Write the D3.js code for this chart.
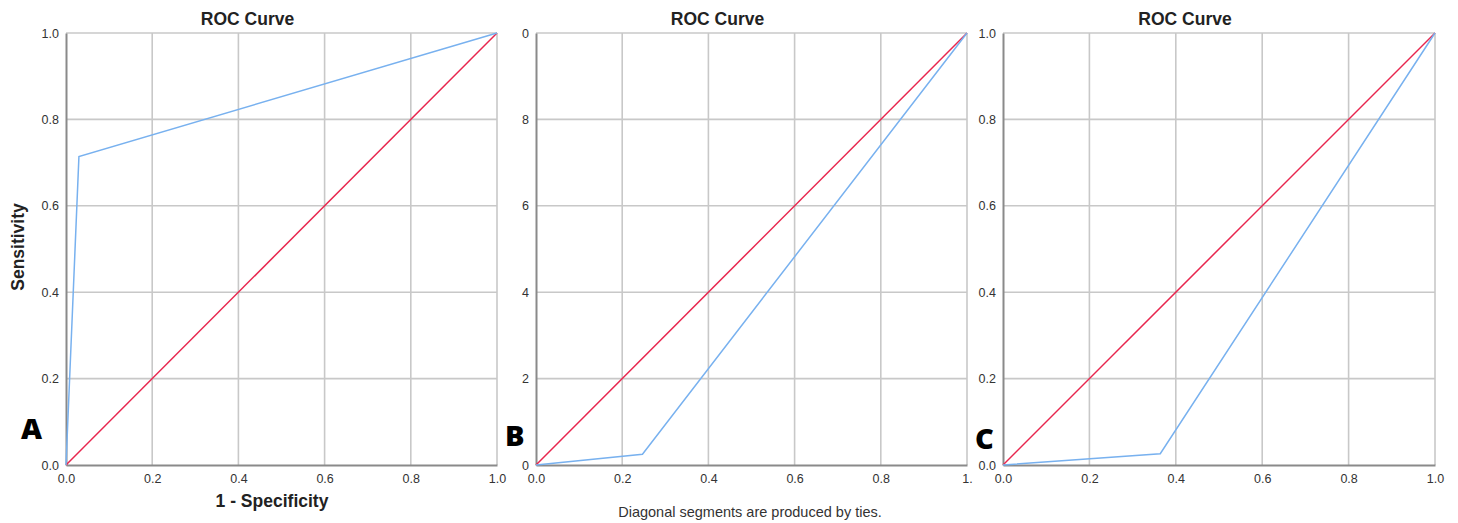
<!DOCTYPE html>
<html>
<head>
<meta charset="utf-8">
<script src="https://cdn.jsdelivr.net/npm/d3@7"></script>
<style>
  body { margin: 0; background: #fff; }
  text { font-family: Arial, "Liberation Sans", sans-serif; }
</style>
</head>
<body>
<div id="wrapper"></div>
<script>
/* three ROC panels side by side, SPSS look */

// data: [1 - specificity, sensitivity]
const rocA = [[0, 0], [0.03, 0.714], [1, 1]];
const rocB = [[0, 0], [0.247, 0.025], [1, 1]];
const rocC = [[0, 0], [0.364, 0.026], [1, 1]];
const reference = [[0, 0], [1, 1]];

const tickValues = [0, 0.2, 0.4, 0.6, 0.8, 1.0];
const xTickLabelsA = ["0.0", "0.2", "0.4", "0.6", "0.8", "1.0"];
const yTickLabelsA = ["0.0", "0.2", "0.4", "0.6", "0.8", "1.0"];
const xTickLabelsB = ["0.0", "0.2", "0.4", "0.6", "0.8", "1."];
const yTickLabelsB = ["0", "2", "4", "6", "8", "0"];
const xTickLabelsC = ["0.0", "0.2", "0.4", "0.6", "0.8", "1.0"];
const yTickLabelsC = ["0.0", "0.2", "0.4", "0.6", "0.8", "1.0"];
const panelLetters = ["A", "B", "C"];

const width = 1458;
const height = 523;

const panels = [
  {left: 66, right: 497, top: 33, bottom: 465, roc: rocA, xt: xTickLabelsA, yt: yTickLabelsA, letter: [21, 439]},
  {left: 536, right: 967, top: 33, bottom: 465, roc: rocB, xt: xTickLabelsB, yt: yTickLabelsB, letter: [505, 446]},
  {left: 1003, right: 1435, top: 33, bottom: 465, roc: rocC, xt: xTickLabelsC, yt: yTickLabelsC, letter: [975, 449]},
];

const svg = d3.select("#wrapper")
  .append("svg")
    .attr("width", width)
    .attr("height", height);

panels.forEach(function(p, i) {
  const xScale = d3.scaleLinear().domain([0, 1]).range([p.left, p.right]);
  const yScale = d3.scaleLinear().domain([0, 1]).range([p.bottom, p.top]);
  const g = svg.append("g");

  // grid
  g.selectAll(".vgrid").data(tickValues.slice(1))
    .enter().append("line")
    .attr("x1", d => xScale(d)).attr("x2", d => xScale(d))
    .attr("y1", p.top).attr("y2", p.bottom)
    .attr("stroke", "#c8c8c8").attr("stroke-width", 1.6);
  g.selectAll(".hgrid").data(tickValues.slice(1))
    .enter().append("line")
    .attr("x1", p.left).attr("x2", p.right)
    .attr("y1", d => yScale(d)).attr("y2", d => yScale(d))
    .attr("stroke", "#c8c8c8").attr("stroke-width", 1.6);

  // axes
  const xAxis = g.append("g")
    .attr("transform", `translate(0,${p.bottom})`)
    .call(d3.axisBottom(xScale).tickValues(tickValues).tickSize(0).tickPadding(9)
      .tickFormat((d, k) => p.xt[k]));
  const yAxis = g.append("g")
    .attr("transform", `translate(${p.left},0)`)
    .call(d3.axisLeft(yScale).tickValues(tickValues).tickSize(0).tickPadding(7)
      .tickFormat((d, k) => p.yt[k]));
  [xAxis, yAxis].forEach(function(ax) {
    ax.select(".domain").attr("stroke", "#8a8a8a").attr("stroke-width", 2);
    ax.selectAll("text").attr("fill", "#333").style("font-size", "12.5px");
  });
  xAxis.selectAll("text").attr("dy", "0.71em");

  const line = d3.line().x(d => xScale(d[0])).y(d => yScale(d[1]));

  g.append("path")
    .datum(reference)
    .attr("d", line)
    .attr("fill", "none")
    .attr("stroke", "#e8264e")
    .attr("stroke-width", 1.5);

  g.append("path")
    .datum(p.roc)
    .attr("d", line)
    .attr("fill", "none")
    .attr("stroke", "#78b1ef")
    .attr("stroke-width", 1.5);

  // title
  g.append("text")
    .attr("x", (p.left + p.right) / 2 - 34)
    .attr("y", 25)
    .attr("text-anchor", "middle")
    .style("font-size", "17.5px")
    .style("font-weight", "bold")
    .attr("fill", "#222")
    .text("ROC Curve");

  // panel letter
  g.append("text")
    .attr("x", p.letter[0])
    .attr("y", p.letter[1])
    .style("font-family", "'Open Sans', sans-serif")
    .style("font-size", "29px")
    .style("font-weight", "800")
    .attr("fill", "#000")
    .text(panelLetters[i]);
});

// axis titles of panel A
svg.append("text")
  .attr("x", 272)
  .attr("y", 507)
  .attr("text-anchor", "middle")
  .style("font-size", "17.5px")
  .style("font-weight", "bold")
  .attr("fill", "#222")
  .text("1 - Specificity");

svg.append("text")
  .attr("transform", "translate(24,247) rotate(-90)")
  .attr("text-anchor", "middle")
  .style("font-size", "17.5px")
  .style("font-weight", "bold")
  .attr("fill", "#222")
  .text("Sensitivity");

// footnote
svg.append("text")
  .attr("x", 750)
  .attr("y", 517)
  .attr("text-anchor", "middle")
  .style("font-size", "14.5px")
  .attr("fill", "#333")
  .text("Diagonal segments are produced by ties.");
</script>
</body>
</html>
